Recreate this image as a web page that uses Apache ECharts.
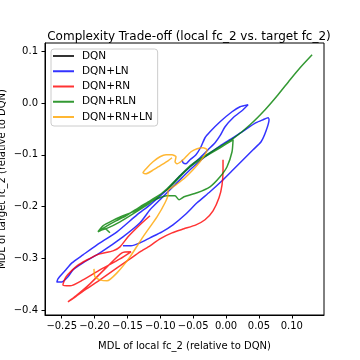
<!DOCTYPE html>
<html>
<head>
<meta charset="utf-8">
<script src="https://cdn.jsdelivr.net/npm/echarts@6/dist/echarts.min.js"></script>
<style>
  html, body { margin: 0; padding: 0; background: #fff; }
  #main { width: 360px; height: 360px; }
</style>
</head>
<body>
<div id="main"></div>
<script>
// series names
const names = ['DQN', 'DQN+LN', 'DQN+RN', 'DQN+RLN', 'DQN+RN+LN'];

// DQN is the reference, so it sits at the origin
const dqnX = [0];
const dqnY = [0];

// DQN+LN (blue)
const lnX = [-0.1568, -0.1446, -0.1309, -0.1157, -0.0974, -0.0807, -0.0624, -0.0441, -0.0244, -0.0061,
  0.0107, 0.0259, 0.0411, 0.0533, 0.0609, 0.0654, 0.0639, 0.0563, 0.0457, 0.0289,
  0.0107, -0.0091, -0.0320, -0.0548, -0.0776, -0.1005, -0.1157, -0.1309, -0.1568, -0.1918,
  -0.2176, -0.2329, -0.2405, -0.2496, -0.2572, -0.2557, -0.2451, -0.2344, -0.2176, -0.1963,
  -0.1659, -0.1355, -0.1157, -0.0898, -0.0700, -0.0548, -0.0381, -0.0274, -0.0167, -0.0091,
  -0.0015, 0.0107, 0.0259, 0.0335, 0.0213, 0.0091, -0.0091, -0.0244, -0.0320, -0.0381,
  -0.0457, -0.0548, -0.0609, -0.0654, -0.0670];
const lnY = [-0.2756, -0.2756, -0.2698, -0.2601, -0.2485, -0.2350, -0.2157, -0.1925, -0.1713, -0.1500,
  -0.1288, -0.1095, -0.0902, -0.0747, -0.0535, -0.0322, -0.0284, -0.0322, -0.0380, -0.0516,
  -0.0670, -0.0825, -0.1037, -0.1288, -0.1578, -0.1867, -0.2060, -0.2311, -0.2582, -0.2891,
  -0.3084, -0.3219, -0.3354, -0.3451, -0.3451, -0.3393, -0.3238, -0.3084, -0.2929, -0.2736,
  -0.2485, -0.2157, -0.1964, -0.1674, -0.1404, -0.1230, -0.1037, -0.0902, -0.0767, -0.0631,
  -0.0458, -0.0284, -0.0129, -0.0033, -0.0071, -0.0168, -0.0361, -0.0554, -0.0670, -0.0844,
  -0.0998, -0.1095, -0.1172, -0.1153, -0.1095];

// DQN+RN (red)
const rnX = [-0.0046, -0.0046, -0.0061, -0.0107, -0.0198, -0.0320, -0.0457, -0.0639, -0.0822, -0.1005,
  -0.1157, -0.1309, -0.1461, -0.1659, -0.1918, -0.2146, -0.2313, -0.2405, -0.2283, -0.2070,
  -0.1811, -0.1583, -0.1446, -0.1613, -0.1918, -0.2176, -0.2374, -0.2481, -0.2435, -0.2268,
  -0.1963, -0.1720, -0.1613, -0.1491, -0.1309, -0.1157];
const rnY = [-0.1095, -0.1288, -0.1578, -0.1829, -0.2080, -0.2253, -0.2350, -0.2427, -0.2505, -0.2620,
  -0.2756, -0.2871, -0.3007, -0.3180, -0.3412, -0.3605, -0.3760, -0.3837, -0.3721, -0.3489,
  -0.3161, -0.2891, -0.2871, -0.3007, -0.3219, -0.3412, -0.3528, -0.3509, -0.3354, -0.3142,
  -0.2929, -0.2852, -0.2775, -0.2582, -0.2350, -0.2176];

// DQN+RLN (green)
const rlnX = [-0.1766, -0.1842, -0.1948, -0.1872, -0.1735, -0.1568, -0.1416, -0.1309, -0.1202, -0.1050,
  -0.0898, -0.0776, -0.0715, -0.0639, -0.0441, -0.0244, -0.0091, 0.0015, 0.0091, 0.0107,
  -0.0091, -0.0350, -0.0548, -0.0898, -0.1157, -0.1309, -0.1522, -0.1674, -0.1811, -0.1933,
  -0.1796, -0.1613, -0.1416, -0.1157, -0.0898, -0.0548, -0.0350, -0.0091, 0.0107, 0.0365,
  0.0594, 0.0791, 0.0974, 0.1126, 0.1309];
const rlnY = [-0.2505, -0.2427, -0.2485, -0.2369, -0.2273, -0.2176, -0.2099, -0.2022, -0.1945, -0.1848,
  -0.1790, -0.1790, -0.1867, -0.1809, -0.1732, -0.1616, -0.1423, -0.1230, -0.0940, -0.0709,
  -0.0863, -0.1056, -0.1230, -0.1674, -0.1887, -0.2002, -0.2176, -0.2273, -0.2369, -0.2466,
  -0.2408, -0.2292, -0.2138, -0.1925, -0.1655, -0.1211, -0.1037, -0.0844, -0.0689, -0.0419,
  -0.0129, 0.0160, 0.0450, 0.0682, 0.0933];

// DQN+RN+LN (orange)
const rnlnX = [-0.2009, -0.1994, -0.1918, -0.1811, -0.1659, -0.1461, -0.1263, -0.1050, -0.0928, -0.0883,
  -0.0883, -0.0761, -0.0624, -0.0502, -0.0396, -0.0320, -0.0289, -0.0350, -0.0441, -0.0533,
  -0.0609, -0.0670, -0.0746, -0.0776, -0.0761, -0.0822, -0.0913, -0.1005, -0.1111, -0.1202,
  -0.1263, -0.1218, -0.1126, -0.1005, -0.0883, -0.0822];
const rnlnY = [-0.3200, -0.3354, -0.3412, -0.3431, -0.3277, -0.2968, -0.2582, -0.2196, -0.1925, -0.1771,
  -0.1693, -0.1578, -0.1442, -0.1288, -0.1134, -0.0998, -0.0902, -0.0863, -0.0882, -0.0940,
  -0.1037, -0.1114, -0.1172, -0.1134, -0.1037, -0.0998, -0.0998, -0.1037, -0.1134, -0.1249,
  -0.1346, -0.1365, -0.1307, -0.1211, -0.1114, -0.1056];

// tick labels
const xTicks = [-0.25, -0.20, -0.15, -0.10, -0.05, 0.00, 0.05, 0.10];
const yTicks = [-0.4, -0.3, -0.2, -0.1, 0.0, 0.1];

const colors = ['rgba(0,0,0,0.8)', 'rgba(0,0,255,0.8)', 'rgba(255,0,0,0.8)', 'rgba(0,128,0,0.8)', 'rgba(255,165,0,0.8)'];
const font = 'DejaVu Sans';

function zip(xs, ys) {
    return xs.map((x, i) => [x, ys[i]]);
}
function minus(s) {
    return s.replace('-', '\u2212');
}

const seriesData = [zip(dqnX, dqnY), zip(lnX, lnY), zip(rnX, rnY), zip(rlnX, rlnY), zip(rnlnX, rnlnY)];

const myChart = echarts.init(document.getElementById('main'), null, { renderer: 'canvas' });

const option = {
    animation: false,
    backgroundColor: '#fff',
    title: {
        text: 'Complexity Trade-off (local fc_2 vs. target fc_2)',
        left: 184,
        textAlign: 'center',
        top: 26,
        textStyle: { fontFamily: font, fontSize: 12, fontWeight: 'normal', color: '#000' }
    },
    legend: {
        orient: 'vertical',
        left: 51,
        top: 49,
        padding: [0, 5, 2, 2],
        itemGap: 1.25,
        itemWidth: 21,
        itemHeight: 2,
        icon: 'rect',
        backgroundColor: 'rgba(255,255,255,0.8)',
        borderColor: '#ccc',
        borderWidth: 1,
        borderRadius: 3,
        data: names,
        textStyle: { fontFamily: font, fontSize: 10.5, lineHeight: 14, color: '#000', padding: [0, 0, 0, 3] }
    },
    grid: {
        left: 45, top: 43, width: 279, height: 272,
        containLabel: false,
        outerBoundsMode: 'none',
        show: true, borderColor: '#000', borderWidth: 1
    },
    xAxis: {
        type: 'value',
        min: -0.2754,
        max: 0.149,
        name: 'MDL of local fc_2 (relative to DQN)',
        nameLocation: 'middle',
        nameGap: 26,
        nameMoveOverlap: false,
        nameTextStyle: { fontFamily: font, fontSize: 10, color: '#000' },
        axisLine: { show: true, onZero: false, lineStyle: { color: '#000', width: 1 } },
        axisTick: { show: true, inside: false, length: 3.5, customValues: xTicks, lineStyle: { color: '#000' } },
        axisLabel: {
            customValues: xTicks,
            fontFamily: font, fontSize: 10, color: '#000', margin: 6,
            formatter: v => minus(v.toFixed(2))
        },
        splitLine: { show: false }
    },
    yAxis: {
        type: 'value',
        min: -0.409,
        max: 0.1158,
        name: 'MDL of target fc_2 (relative to DQN)',
        nameLocation: 'middle',
        nameGap: 38,
        nameMoveOverlap: false,
        nameTextStyle: { fontFamily: font, fontSize: 10, color: '#000' },
        axisLine: { show: true, onZero: false, lineStyle: { color: '#000', width: 1 } },
        axisTick: { show: true, inside: false, length: 3.5, customValues: yTicks, lineStyle: { color: '#000' } },
        axisLabel: {
            customValues: yTicks,
            fontFamily: font, fontSize: 10, color: '#000', margin: 7,
            formatter: v => minus(v.toFixed(1))
        },
        splitLine: { show: false }
    },
    series: names.map((name, i) => ({
        name: name,
        type: 'line',
        data: seriesData[i],
        color: colors[i],
        showSymbol: false,
        symbol: 'none',
        smooth: 0.2,
        lineStyle: { width: 1.5, color: colors[i] },
        z: 2 + i
    }))
};

myChart.setOption(option);
</script>
</body>
</html>
